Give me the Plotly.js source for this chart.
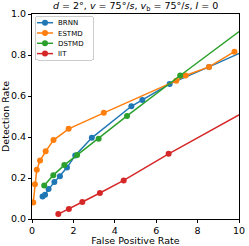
<!DOCTYPE html>
<html><head><meta charset="utf-8">
<script src="https://cdn.plot.ly/plotly-3.0.1.min.js"></script>
<style>html,body{margin:0;padding:0;background:#fff}#c{width:249px;height:246px}</style>
</head><body><div id="c"></div>
<script>
const seriesNames = ["BRNN", "ESTMD", "DSTMD", "IIT"];
const colors = ["#1f77b4", "#ff7f0e", "#2ca02c", "#d62728"];
const brnnX = [0.51, 0.63, 0.80, 1.08, 1.35, 1.69, 2.09, 2.89, 4.80, 5.33, 6.65, 8.55, 10.6];
const brnnY = [0.110, 0.118, 0.146, 0.180, 0.208, 0.251, 0.310, 0.396, 0.550, 0.581, 0.659, 0.742, 0.834];
const estmdX = [0.06, 0.14, 0.23, 0.39, 0.66, 1.04, 1.77, 3.47, 6.97, 7.42, 8.55, 9.78];
const estmdY = [0.081, 0.170, 0.240, 0.285, 0.330, 0.385, 0.440, 0.518, 0.675, 0.700, 0.742, 0.816];
const dstmdX = [0.59, 1.03, 1.56, 2.18, 3.22, 4.59, 7.16, 10.6];
const dstmdY = [0.164, 0.214, 0.263, 0.312, 0.391, 0.503, 0.700, 0.959];
const iitX = [1.27, 1.78, 2.43, 3.28, 4.43, 6.60, 10.6];
const iitY = [0.024, 0.049, 0.083, 0.127, 0.188, 0.318, 0.542];
const xTicks = [0, 2, 4, 6, 8, 10];
const yTicks = [0.0, 0.2, 0.4, 0.6, 0.8, 1.0];
const yTickText = ["0.0", "0.2", "0.4", "0.6", "0.8", "1.0"];

const xs = [brnnX, estmdX, dstmdX, iitX];
const ys = [brnnY, estmdY, dstmdY, iitY];
const traces = seriesNames.map((n, i) => ({
  x: xs[i], y: ys[i], name: n, type: "scatter", mode: "lines+markers",
  line: {color: colors[i], width: 1.5},
  marker: {color: colors[i], size: 6},
  cliponaxis: true
}));
const font = "DejaVu Sans, sans-serif";
const layout = {
  width: 249, height: 246,
  margin: {l: 32, r: 10, t: 14, b: 27},
  paper_bgcolor: "#fff", plot_bgcolor: "#fff",
  font: {family: font, size: 9, color: "#000"},
  title: {text: "<i>d</i> = 2°, <i>v</i> = 75°/<i>s</i>, <i>v</i><sub>b</sub> = 75°/<i>s</i>, <i>I</i> = 0",
    font: {family: font, size: 9.5, color: "#000"}, x: 0.545, xanchor: "center", y: 0.975, yanchor: "middle"},
  xaxis: {range: [0, 10], tickvals: xTicks, ticktext: xTicks.map(String),
    showgrid: false, zeroline: false, showline: true, mirror: true, linecolor: "#000", linewidth: 1,
    ticks: "outside", ticklen: 3, tickcolor: "#000", tickfont: {family: font, size: 9.5},
    title: {text: "False Positive Rate", font: {family: font, size: 9.5}, standoff: 2}},
  yaxis: {range: [0, 1], tickvals: yTicks, ticktext: yTickText,
    showgrid: false, zeroline: false, showline: true, mirror: true, linecolor: "#000", linewidth: 1,
    ticks: "outside", ticklen: 3, tickcolor: "#000", tickfont: {family: font, size: 9.5},
    title: {text: "Detection Rate", font: {family: font, size: 9.5}, standoff: 2}},
  showlegend: true,
  legend: {x: 0.015, y: 0.99, xanchor: "left", yanchor: "top", bgcolor: "rgba(255,255,255,0.9)",
    bordercolor: "#ccc", borderwidth: 1, font: {family: font, size: 7}, itemwidth: 30,
    tracegroupgap: 0}
};
Plotly.newPlot("c", traces, layout, {staticPlot: true, displayModeBar: false}).then(gd => {
  // compact the legend to matplotlib-like spacing
  const leg = gd.querySelector("g.legend");
  if (!leg) return;
  leg.setAttribute("transform", "translate(35,16)");
  const bg = leg.querySelector("rect.bg");
  if (bg) { bg.setAttribute("x", 0.5); bg.setAttribute("y", 0.5); bg.setAttribute("width", 58); bg.setAttribute("height", 43.5); bg.setAttribute("rx", 2); bg.setAttribute("ry", 2); }
  const sb = leg.querySelector("g.scrollbox");
  if (sb) { sb.removeAttribute("clip-path"); sb.setAttribute("transform", "translate(0,0)"); }
  const groups = leg.querySelectorAll("g.groups");
  groups.forEach(g => g.setAttribute("transform", "translate(0,0)"));
  leg.querySelectorAll("g.traces").forEach((t, i) => {
    t.setAttribute("transform", "translate(0," + (6.7 + 10.3 * i) + ")");
    t.querySelectorAll("g.legendlines path").forEach(p => p.setAttribute("d", "M2,0h16"));
    t.querySelectorAll("g.legendpoints path").forEach(p => p.setAttribute("transform", "translate(10,0)"));
    t.querySelectorAll("text.legendtext").forEach(tx => tx.setAttribute("x", 23));
  });
});
</script></body></html>
